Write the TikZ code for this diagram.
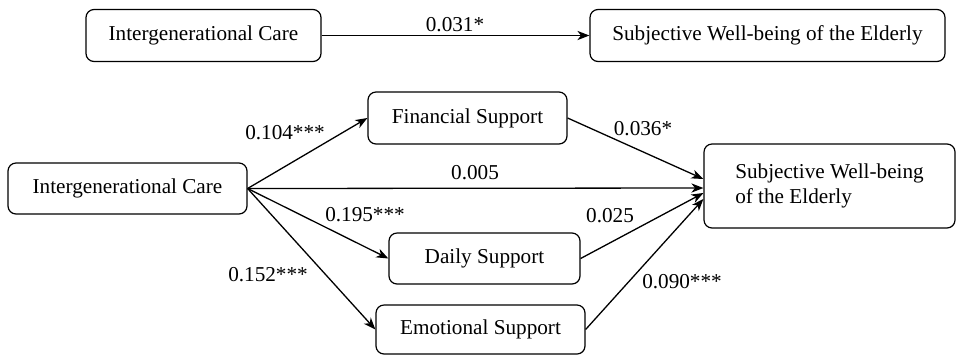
\documentclass[tikz,border=0pt]{standalone}
\usepackage{fontspec}
\setmainfont{Liberation Serif}
\usetikzlibrary{arrows.meta}
\begin{document}
\begin{tikzpicture}[x=0.5pt,y=-0.5pt,
  box/.style={draw, rounded corners=4pt, line width=0.6pt, inner sep=0pt,
    font=\fontsize{10.6}{12.8}\selectfont},
  lbl/.style={inner sep=0pt, font=\fontsize{10.6}{12.8}\selectfont},
  arr/.style={-{Stealth[length=6pt,width=4.6pt,inset=1.8pt]}, line width=0.65pt}]
\useasboundingbox (0,0) rectangle (957,355);
% top model
\node[box, minimum width=117.5pt, minimum height=26pt] (ica) at (203.5,35.5) {Intergenerational Care};
\node[box, minimum width=177.5pt, minimum height=26pt] (swba) at (767.5,35.5) {Subjective Well-being of the Elderly};
\draw[arr] (ica) -- (swba);
\node[lbl] (la) at (455,25) {0.031*};
% mediation model
\node[box, minimum width=119.5pt, minimum height=25.5pt] (icb) at (127.5,188.5) {Intergenerational Care};
\node[box, minimum width=99.5pt, minimum height=26pt] (fin) at (467.5,118) {Financial Support};
\node[box, minimum width=95.5pt, minimum height=25.5pt] (day) at (484.5,258.5) {Daily Support};
\node[box, minimum width=104.5pt, minimum height=24.5pt] (emo) at (480.5,329.5) {Emotional Support};
\node[box, minimum width=125.5pt, minimum height=42pt, align=left] (swbb) at (829.5,186) {Subjective Well-being\\of the Elderly};
\draw[arr] (icb.east) -- (fin.west);
\draw[arr] (icb.east) -- (day.west);
\draw[arr] (icb.east) -- (emo.west);
\draw[arr] (icb.east) -- ([yshift=-1pt]swbb.west);
\draw[arr] (fin.east) -- ([yshift=3.5pt]swbb.west);
\draw[arr] (day.east) -- ([yshift=-3.5pt]swbb.west);
\draw[arr] (emo.east) -- ([yshift=-6.5pt]swbb.west);
\node[lbl] (l1) at (285,133) {0.104***};
\node[lbl] (l2) at (475,173) {0.005};
\node[lbl] (l3) at (365,215) {0.195***};
\node[lbl] (l4) at (268,275) {0.152***};
\node[lbl] (l5) at (643,129) {0.036*};
\node[lbl] (l6) at (610,216) {0.025};
\node[lbl] (l7) at (682,282) {0.090***};
\end{tikzpicture}
\end{document}
